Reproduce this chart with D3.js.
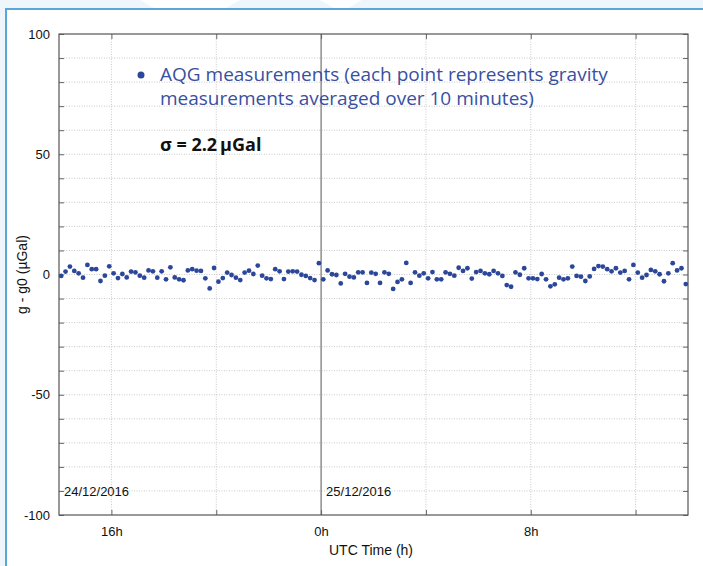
<!DOCTYPE html>
<html>
<head>
<meta charset="utf-8">
<script src="https://cdn.jsdelivr.net/npm/d3@7"></script>
<style>
  body { margin: 0; background: #fff; }
  svg text { font-family: "Liberation Sans", Arial, sans-serif; }
</style>
</head>
<body>
<div id="chart"></div>
<script>
// 10-minute averages, 24/12/2016 14:05 UTC -> 25/12/2016 13:55 UTC
var startTime = new Date(Date.UTC(2016, 11, 24, 14, 5));
var stepMinutes = 10;
var gValues = [
  -0.6, 1.2, 3.3, 1.5, 0.5, -1.3, 4.0, 2.2, 2.2, -2.7,
  -0.5, 3.4, 0.5, -1.5, 0.2, -1.2, 1.2, 0.9, -0.5, -1.3,
  1.7, 1.3, -1.3, 1.3, -2.0, 3.0, -1.2, -2.0, -2.4, 1.7,
  2.2, 1.6, 1.5, -1.6, -5.8, 2.7, -3.0, -1.5, 0.8, -0.2,
  -1.3, -2.3, 0.8, 1.6, 0.2, 3.7, -0.5, -1.6, -1.9, 2.2,
  1.3, -1.9, 1.2, 1.3, 1.2, -0.1, -0.6, -1.5, -2.3, 4.7,
  -2.0, 1.7, 0.1, -0.2, -3.7, 0.3, -0.9, -1.2, 0.9, 0.9,
  -3.5, 0.8, 0.3, -3.5, 0.9, 0.3, -6.0, -3.1, -2.0, 4.8,
  -3.5, 0.9, -0.5, 0.5, -1.6, 1.0, -2.0, -2.0, 0.9, 0.3,
  -0.5, 2.8, 1.5, 2.6, -1.7, 1.0, 1.5, 0.5, 0.1, 1.5,
  0.5, -0.6, -4.4, -5.1, 0.9, -0.1, 2.6, -1.6, -1.6, -1.9,
  0.2, -2.0, -4.9, -4.1, -1.3, -2.0, -1.6, 3.3, -0.6, -0.9,
  -2.7, -0.8, 2.3, 3.5, 3.3, 2.2, 1.3, 2.6, 0.8, 1.5,
  -2.0, 4.0, 0.8, -1.3, -0.2, 1.9, 1.3, 0.1, -2.8, 0.5,
  4.7, 1.7, 2.6, -4.0
];
var yTicks = [-100, -50, 0, 50, 100];
var xLabelHours = [16, 0, 8];
var dateLabels = ["24/12/2016", "25/12/2016"];
var legendLines = ["AQG measurements (each point represents gravity", "measurements averaged over 10 minutes)"];
var sigmaText = "\u03c3 = 2.2\u2009\u00b5Gal";

var width = 703, height = 566;
var margin = { left: 59, top: 34, right: 15, bottom: 51 };

var svg = d3.select("#chart").append("svg")
    .attr("width", width)
    .attr("height", height);

// page frame behind the chart
svg.append("rect").attr("width", width).attr("height", height).attr("fill", "#eef5fb");
svg.append("rect").attr("x", 5).attr("y", 8).attr("width", width).attr("height", height).attr("fill", "#fff");
svg.append("polygon").attr("points", "140,0 154,8 226,8 240,0").attr("fill", "#fff");
svg.append("polygon").attr("points", "320,0 334,8 348,8 362,0").attr("fill", "#fff");
svg.append("path").attr("d", "M6,566 V9 H703")
    .attr("fill", "none").attr("stroke", "#5aa6d9").attr("stroke-width", 2);

var data = gValues.map(function(v, i) {
    return { t: new Date(startTime.getTime() + i * stepMinutes * 60000), v: v };
});

var x = d3.scaleUtc()
    .domain([new Date(Date.UTC(2016, 11, 24, 14)), new Date(Date.UTC(2016, 11, 25, 14))])
    .range([margin.left, width - margin.right]);
var y = d3.scaleLinear()
    .domain([-100, 100])
    .range([height - margin.bottom, margin.top]);

var gridTimes = x.ticks(d3.utcHour.every(4));
var gridVals = d3.range(-90, 100, 10);

// grid
svg.append("g").selectAll("line").data(gridVals).enter().append("line")
    .attr("x1", margin.left).attr("x2", width - margin.right)
    .attr("y1", function(d) { return y(d); }).attr("y2", function(d) { return y(d); })
    .attr("stroke", "#bdbdbd").attr("stroke-dasharray", "1,1.5").attr("stroke-width", 0.8);
svg.append("g").selectAll("line").data(gridTimes).enter().append("line")
    .attr("x1", function(d) { return x(d); }).attr("x2", function(d) { return x(d); })
    .attr("y1", margin.top).attr("y2", height - margin.bottom)
    .attr("stroke", function(d) { return d.getUTCHours() === 0 ? "#555" : "#bdbdbd"; })
    .attr("stroke-dasharray", function(d) { return d.getUTCHours() === 0 ? null : "1,1.5"; })
    .attr("stroke-width", function(d) { return d.getUTCHours() === 0 ? 1 : 0.8; });

// axes
var xBottom = d3.axisBottom(x).tickValues(gridTimes).tickSize(-5).tickPadding(12)
    .tickFormat(function(d) { return xLabelHours.indexOf(d.getUTCHours()) >= 0 ? d.getUTCHours() + "h" : ""; });
var xTop = d3.axisTop(x).tickValues(gridTimes).tickSize(-5).tickFormat("");
var yLeft = d3.axisLeft(y).tickValues(d3.range(-100, 101, 10)).tickSize(-5).tickPadding(9)
    .tickFormat(function(d) { return yTicks.indexOf(d) >= 0 ? d : ""; });
var yRight = d3.axisRight(y).tickValues(d3.range(-100, 101, 10)).tickSize(-5).tickFormat("");

function styleAxis(g) {
    g.select(".domain").remove();
    g.selectAll("line").attr("stroke", "#666");
    g.selectAll("text").attr("font-size", 13).attr("fill", "#111")
        .style("font-family", "'Liberation Sans', Arial, sans-serif");
}
svg.append("g").attr("transform", "translate(0," + (height - margin.bottom) + ")").call(xBottom).call(styleAxis);
svg.append("g").attr("transform", "translate(0," + margin.top + ")").call(xTop).call(styleAxis);
svg.append("g").attr("transform", "translate(" + margin.left + ",0)").call(yLeft).call(styleAxis);
svg.append("g").attr("transform", "translate(" + (width - margin.right) + ",0)").call(yRight).call(styleAxis);

svg.append("rect")
    .attr("x", margin.left).attr("y", margin.top)
    .attr("width", width - margin.left - margin.right)
    .attr("height", height - margin.top - margin.bottom)
    .attr("fill", "none").attr("stroke", "#555").attr("stroke-width", 1.2);

// date labels
svg.append("g").selectAll("text").data(dateLabels).enter().append("text")
    .attr("x", function(d, i) { return i === 0 ? margin.left + 5 : x(gridTimes[2]) + 5; })
    .attr("y", y(-90) + 5)
    .attr("font-size", 13).attr("fill", "#111")
    .text(function(d) { return d; });

// points
svg.append("g").selectAll("circle").data(data).enter().append("circle")
    .attr("cx", function(d) { return x(d.t); })
    .attr("cy", function(d) { return y(d.v); })
    .attr("r", 2.4)
    .attr("fill", "#2c4799");

// axis titles
svg.append("text")
    .attr("x", 371).attr("y", 555)
    .attr("text-anchor", "middle").attr("font-size", 14).attr("fill", "#111")
    .text("UTC Time (h)");
svg.append("text")
    .attr("transform", "translate(27," + y(0) + ") rotate(-90)")
    .attr("text-anchor", "middle").attr("font-size", 14).attr("fill", "#111")
    .text("g - g0 (\u00b5Gal)");

// legend
svg.append("circle").attr("cx", 141).attr("cy", 75).attr("r", 3.5).attr("fill", "#2c4799");
svg.append("g").selectAll("text").data(legendLines).enter().append("text")
    .attr("x", 160)
    .attr("y", function(d, i) { return 81 + i * 24; })
    .attr("font-size", 19)
    .attr("fill", "#3a4f9f")
    .style("font-family", "'Open Sans', 'Noto Sans', sans-serif")
    .text(function(d) { return d; });
svg.append("text")
    .attr("x", 160).attr("y", 151)
    .attr("font-size", 18).attr("font-weight", "bold").attr("fill", "#111")
    .style("font-family", "'Open Sans', 'Noto Sans', sans-serif")
    .text(sigmaText);
</script>
</body>
</html>
